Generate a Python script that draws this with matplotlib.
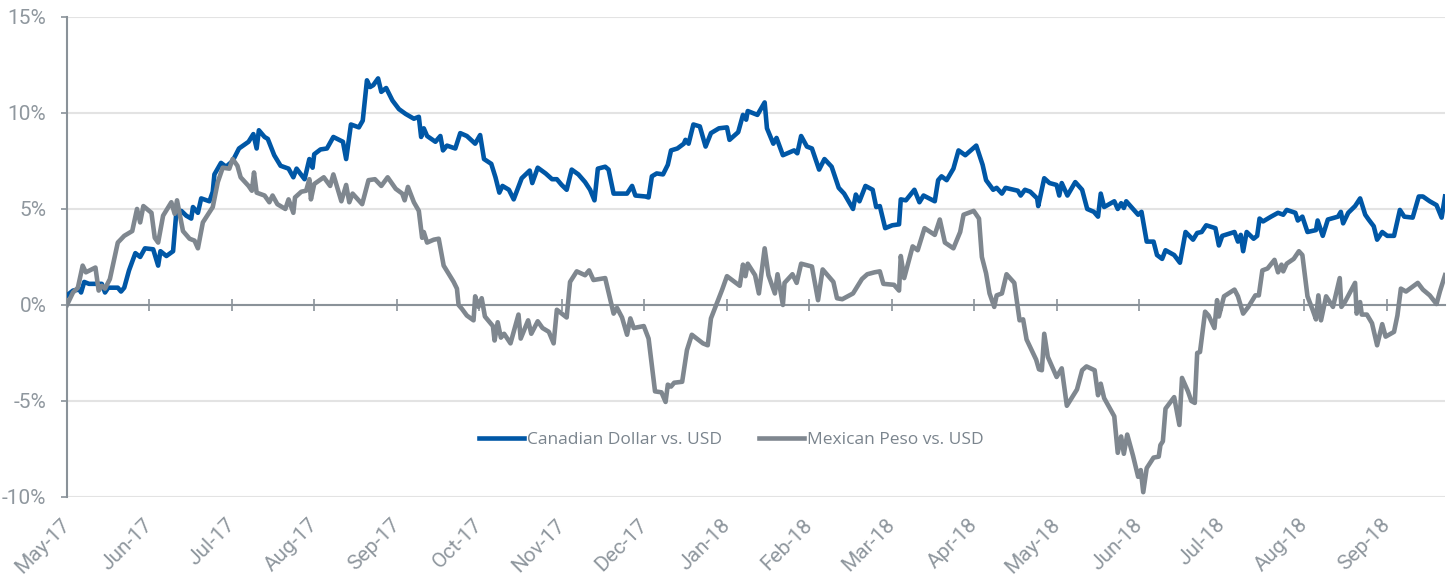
import numpy as np
import matplotlib
matplotlib.use("Agg")
import matplotlib.pyplot as plt
from matplotlib import font_manager

out_path = "out.png"

# x = months since May-17, y = % change vs. USD
month_labels = ["May-17", "Jun-17", "Jul-17", "Aug-17", "Sep-17", "Oct-17", "Nov-17",
                "Dec-17", "Jan-18", "Feb-18", "Mar-18", "Apr-18", "May-18", "Jun-18",
                "Jul-18", "Aug-18", "Sep-18"]
y_ticks = [-10, -5, 0, 5, 10, 15]
y_tick_labels = ["-10%", "-5%", "0%", "5%", "10%", "15%"]

cad_t = [0.000, 0.073, 0.151, 0.171, 0.209, 0.267, 0.422, 0.461, 0.500, 0.616, 0.655, 0.694,
         0.752, 0.829, 0.887, 0.945, 1.045, 1.105, 1.133, 1.205, 1.286, 1.325, 1.386, 1.446,
         1.506, 1.527, 1.587, 1.627, 1.727, 1.767, 1.787, 1.867, 1.928, 2.008, 2.085, 2.201,
         2.259, 2.299, 2.326, 2.395, 2.434, 2.512, 2.589, 2.686, 2.744, 2.783, 2.880, 2.938,
         2.977, 2.997, 3.073, 3.151, 3.229, 3.345, 3.384, 3.442, 3.538, 3.585, 3.636, 3.674,
         3.713, 3.771, 3.810, 3.869, 3.945, 4.024, 4.105, 4.205, 4.265, 4.293, 4.325, 4.365,
         4.466, 4.526, 4.558, 4.606, 4.707, 4.767, 4.847, 4.948, 5.008, 5.055, 5.143, 5.194,
         5.241, 5.279, 5.357, 5.415, 5.512, 5.609, 5.640, 5.706, 5.802, 5.880, 5.938, 5.997,
         6.057, 6.118, 6.199, 6.280, 6.341, 6.394, 6.435, 6.524, 6.565, 6.626, 6.789, 6.850,
         6.890, 7.012, 7.050, 7.090, 7.148, 7.225, 7.283, 7.322, 7.399, 7.477, 7.497, 7.535,
         7.593, 7.671, 7.741, 7.806, 7.903, 8.000, 8.031, 8.136, 8.194, 8.233, 8.252, 8.369,
         8.457, 8.485, 8.562, 8.601, 8.678, 8.814, 8.853, 8.899, 8.969, 9.030, 9.117, 9.182,
         9.269, 9.355, 9.420, 9.528, 9.562, 9.606, 9.679, 9.766, 9.809, 9.853, 9.918, 10.004,
         10.086, 10.107, 10.169, 10.272, 10.333, 10.383, 10.519, 10.560, 10.601, 10.663,
         10.745, 10.807, 10.889, 11.022, 11.099, 11.141, 11.227, 11.269, 11.333, 11.376,
         11.526, 11.560, 11.612, 11.676, 11.760, 11.773, 11.846, 11.910, 11.996, 12.028,
         12.058, 12.127, 12.222, 12.305, 12.367, 12.448, 12.498, 12.531, 12.572, 12.695,
         12.737, 12.778, 12.811, 12.840, 12.901, 12.984, 13.025, 13.088, 13.171, 13.213,
         13.275, 13.316, 13.421, 13.491, 13.559, 13.650, 13.700, 13.754, 13.809, 13.921,
         13.963, 14.004, 14.152, 14.194, 14.228, 14.257, 14.300, 14.384, 14.427, 14.456,
         14.498, 14.595, 14.680, 14.743, 14.785, 14.890, 14.920, 14.975, 15.037, 15.140,
         15.160, 15.222, 15.284, 15.407, 15.441, 15.469, 15.531, 15.614, 15.675, 15.737,
         15.778, 15.840, 15.881, 15.943, 16.004, 16.086, 16.157, 16.210, 16.312, 16.386,
         16.436, 16.519, 16.601, 16.663, 16.704]
cad_pct = [0.5, 0.75, 0.8, 0.65, 1.2, 1.1, 1.1, 0.65, 0.9, 0.9, 0.7, 0.9,
           1.8, 2.7, 2.5, 2.95, 2.9, 2.05, 2.8, 2.55, 2.8, 4.8, 4.9, 4.65,
           4.5, 5.1, 4.8, 5.55, 5.4, 5.9, 6.8, 7.4, 7.2, 7.5, 8.15, 8.5,
           8.9, 8.15, 9.1, 8.75, 8.65, 7.8, 7.25, 7.1, 6.65, 7.1, 6.55, 7.6,
           7.15, 7.85, 8.1, 8.15, 8.75, 8.5, 7.6, 9.4, 9.25, 9.6, 11.7, 11.35,
           11.45, 11.8, 11.1, 11.3, 10.65, 10.2, 9.95, 9.7, 9.8, 8.75, 9.2, 8.8,
           8.5, 8.8, 8.05, 8.3, 8.15, 8.95, 8.8, 8.4, 8.85, 7.6, 7.35, 6.65,
           5.85, 6.2, 6.0, 5.5, 6.6, 7.0, 6.35, 7.15, 6.85, 6.55, 6.55, 6.25,
           6.0, 7.05, 6.8, 6.4, 6.0, 5.45, 7.1, 7.2, 7.05, 5.8, 5.8, 6.2,
           5.7, 5.65, 5.6, 6.7, 6.85, 6.8, 7.3, 8.05, 8.15, 8.4, 8.6, 8.4,
           9.4, 9.3, 8.25, 8.95, 9.2, 9.25, 8.6, 9.0, 9.9, 9.65, 10.1, 9.9,
           10.55, 9.2, 8.4, 8.7, 7.8, 8.05, 7.9, 8.8, 8.25, 8.15, 7.05, 7.6,
           7.2, 6.1, 5.8, 5.0, 5.75, 5.4, 6.2, 6.0, 5.1, 5.15, 4.0, 4.15,
           4.2, 5.5, 5.45, 6.0, 5.35, 5.7, 5.4, 6.5, 6.7, 6.5,
           7.1, 8.05, 7.8, 8.3, 7.3, 6.5, 6.0, 6.1, 5.8, 6.1,
           5.95, 5.7, 6.0, 5.9, 5.55, 5.15, 6.6, 6.35, 6.25, 5.7,
           6.35, 5.7, 6.4, 6.0, 5.0, 4.85, 4.6, 5.8, 5.1, 5.4,
           5.0, 5.3, 5.05, 5.4, 5.1, 4.7, 4.85, 3.3, 3.3, 2.6,
           2.4, 2.85, 2.6, 2.2, 3.8, 3.4, 3.75, 3.8, 4.15, 4.0,
           3.1, 3.6, 3.8, 3.3, 3.65, 2.8, 3.8, 3.45, 3.6, 4.5,
           4.35, 4.6, 4.8, 4.7, 4.95, 4.8, 4.4, 4.6, 3.8, 3.9,
           4.4, 3.6, 4.45, 4.6, 4.85, 4.25, 4.8, 5.15, 5.55, 4.7,
           4.45, 4.1, 3.4, 3.8, 3.6, 3.6, 4.95, 4.6, 4.55, 5.65,
           5.65, 5.4, 5.2, 4.55, 5.65]

mxn_t = [0.000, 0.073, 0.132, 0.190, 0.229, 0.345, 0.384, 0.422, 0.461, 0.520, 0.616, 0.694,
         0.791, 0.849, 0.887, 0.926, 1.024, 1.064, 1.105, 1.165, 1.265, 1.305, 1.334, 1.406,
         1.486, 1.546, 1.587, 1.647, 1.767, 1.828, 1.888, 1.968, 2.008, 2.066, 2.105, 2.201,
         2.241, 2.267, 2.299, 2.395, 2.453, 2.492, 2.550, 2.647, 2.686, 2.744, 2.764, 2.841,
         2.899, 2.938, 2.957, 2.997, 3.113, 3.190, 3.229, 3.326, 3.384, 3.422, 3.462, 3.578,
         3.655, 3.733, 3.810, 3.887, 3.985, 4.064, 4.093, 4.133, 4.205, 4.265, 4.305, 4.325,
         4.365, 4.446, 4.506, 4.566, 4.687, 4.727, 4.747, 4.787, 4.847, 4.928, 4.948, 4.988,
         5.027, 5.066, 5.163, 5.183, 5.221, 5.260, 5.299, 5.376, 5.473, 5.500, 5.590, 5.628,
         5.706, 5.764, 5.841, 5.899, 5.938, 5.997, 6.057, 6.098, 6.179, 6.280, 6.329, 6.382,
         6.524, 6.626, 6.667, 6.728, 6.789, 6.829, 6.870, 6.992, 7.050, 7.128, 7.206, 7.256,
         7.283, 7.322, 7.360, 7.457, 7.515, 7.574, 7.709, 7.767, 7.806, 7.942, 8.000, 8.155,
         8.194, 8.224, 8.252, 8.341, 8.387, 8.457, 8.503, 8.581, 8.613, 8.678, 8.698, 8.794,
         8.845, 8.899, 9.030, 9.104, 9.160, 9.290, 9.334, 9.398, 9.528, 9.636, 9.701, 9.788,
         9.853, 9.896, 10.025, 10.086, 10.107, 10.148, 10.251, 10.312, 10.395, 10.519,
         10.580, 10.642, 10.745, 10.827, 10.868, 10.991, 11.055, 11.090, 11.141, 11.183,
         11.240, 11.269, 11.333, 11.389, 11.483, 11.547, 11.590, 11.632, 11.748, 11.782,
         11.817, 11.846, 11.889, 11.996, 12.058, 12.120, 12.243, 12.305, 12.358, 12.457,
         12.498, 12.531, 12.572, 12.695, 12.737, 12.778, 12.811, 12.852, 12.922, 12.984,
         13.016, 13.046, 13.088, 13.171, 13.234, 13.254, 13.284, 13.316, 13.421, 13.484,
         13.516, 13.588, 13.629, 13.671, 13.700, 13.734, 13.796, 13.838, 13.909, 13.941,
         13.963, 14.025, 14.152, 14.194, 14.257, 14.320, 14.405, 14.447, 14.490, 14.553,
         14.637, 14.680, 14.722, 14.743, 14.785, 14.870, 14.933, 14.975, 15.037, 15.099,
         15.140, 15.169, 15.201, 15.263, 15.346, 15.428, 15.448, 15.490, 15.614, 15.633,
         15.675, 15.695, 15.757, 15.819, 15.881, 15.943, 15.984, 16.086, 16.127, 16.169,
         16.231, 16.374, 16.436, 16.519, 16.601, 16.642, 16.704]
mxn_pct = [0.0, 0.65, 0.9, 2.05, 1.7, 1.95, 0.75, 1.0, 0.85, 1.35, 3.25, 3.6,
           3.85, 5.0, 4.3, 5.15, 4.8, 3.5, 3.25, 4.65, 5.35, 4.75, 5.45, 3.85,
           3.45, 3.35, 2.95, 4.3, 5.1, 6.4, 7.15, 7.1, 7.6, 7.25, 6.65, 6.2,
           5.95, 6.9, 5.85, 5.7, 5.35, 5.7, 5.25, 5.0, 5.5, 4.8, 5.6, 5.9,
           5.95, 6.55, 5.5, 6.3, 6.65, 6.2, 6.8, 5.4, 6.25, 5.35, 5.8, 5.25,
           6.5, 6.55, 6.2, 6.65, 6.05, 5.8, 5.45, 6.15, 5.35, 4.9, 3.5, 3.8,
           3.25, 3.4, 3.45, 2.05, 1.2, 0.85, 0.0, -0.2, -0.55, -0.8, 0.45, -0.1,
           0.35, -0.6, -1.1, -1.85, -0.9, -1.7, -1.5, -2.0, -0.5, -1.75, -0.8, -1.5,
           -0.85, -1.2, -1.4, -2.0, -0.25, -0.45, -0.65, 1.2, 1.75, 1.55, 1.8, 1.3,
           1.4, -0.45, -0.15, -0.65, -1.55, -0.7, -1.2, -1.1, -1.75, -4.5, -4.55, -5.05,
           -4.15, -4.25, -4.05, -4.0, -2.35, -1.55, -2.0, -2.1, -0.7, 0.8, 1.5, 1.0,
           2.1, 1.5, 2.15, 1.55, 0.6, 2.95, 1.55, 0.6, 1.6, 0.0, 1.15, 1.6,
           1.15, 2.15, 2.0, 0.25, 1.85, 1.2, 0.35, 0.3, 0.6, 1.35, 1.6, 1.7,
           1.75, 1.1, 1.05, 0.75, 2.55, 1.4, 3.05, 2.85, 4.0, 3.65,
           4.45, 3.25, 2.95, 3.8, 4.7, 4.9, 4.5, 2.5, 1.65, 0.6,
           -0.1, 0.5, 0.6, 1.6, 1.15, -0.8, -0.75, -1.8, -2.85, -3.35,
           -3.4, -1.5, -2.7, -3.75, -3.3, -5.25, -4.4, -3.4, -3.2, -3.4,
           -4.7, -4.1, -4.85, -5.8, -7.7, -6.85, -7.75, -6.75, -7.85, -8.95,
           -8.6, -9.75, -8.5, -7.95, -7.9, -7.3, -7.1, -5.4, -4.8, -6.25,
           -3.8, -4.5, -5.0, -5.1, -2.5, -2.45, -0.35, -0.55, -1.2, 0.25,
           -0.6, 0.45, 0.8, 0.45, -0.45, -0.1, 0.5, 0.5, 1.8, 1.9,
           2.35, 1.7, 2.1, 1.75, 2.15, 2.4, 2.8, 2.6, 0.45, -0.25,
           -0.75, 0.5, -0.8, 0.45, -0.1, 1.4, -0.1, 0.15, 1.15, -0.45,
           0.15, -0.5, -0.5, -0.95, -2.1, -1.0, -1.65, -1.4, -0.55, 0.85,
           0.7, 1.15, 0.8, 0.5, 0.05, 0.7, 1.55]

blue = "#0057a6"
grey = "#7f878f"
axis_grey = "#8a9299"
text_grey = "#8f979e"
grid_grey = "#e3e3e3"

available = {f.name for f in font_manager.fontManager.ttflist}
tick_font = "Liberation Sans Narrow" if "Liberation Sans Narrow" in available else "Roboto"

fig = plt.figure(figsize=(14.53, 5.75), dpi=100)
ax = fig.add_axes([0.0461, 0.1357, 0.9484, 0.8348])

ax.plot(cad_t, cad_pct, color=blue, lw=3.3, label="Canadian Dollar vs. USD",
        solid_joinstyle="round", zorder=3)
ax.plot(mxn_t, mxn_pct, color=grey, lw=3.3, label="Mexican Peso vs. USD",
        solid_joinstyle="round", zorder=3)

ax.set_xlim(cad_t[0], cad_t[-1])
ax.set_ylim(y_ticks[0], y_ticks[-1])

for side in ["top", "right"]:
    ax.spines[side].set_visible(False)
ax.spines["left"].set_color(axis_grey)
ax.spines["left"].set_linewidth(1.5)
ax.spines["bottom"].set_position(("data", 0))
ax.spines["bottom"].set_color(axis_grey)
ax.spines["bottom"].set_linewidth(1.5)

ax.set_yticks(y_ticks, y_tick_labels)
ax.tick_params(axis="y", direction="out", length=4.3, width=1.2, color=axis_grey,
               labelcolor=text_grey, labelsize=15, pad=10.5)
for lbl in ax.get_yticklabels():
    lbl.set_family([tick_font, "DejaVu Sans"])

ax.set_xticks(range(len(month_labels)))
ax.tick_params(axis="x", direction="inout", length=8.6, width=1.2, color=axis_grey,
               labelbottom=False)

ax.set_axisbelow(True)
ax.yaxis.grid(True, color=grid_grey, lw=1.5)
ax.xaxis.grid(False)

# month labels sit under the plot, the tick marks stay on the zero line
sec = ax.secondary_xaxis("bottom")
sec.spines["bottom"].set_visible(False)
sec.set_xticks(range(len(month_labels)), month_labels, rotation=45, ha="right",
               va="center", rotation_mode="anchor")
sec.tick_params(axis="x", length=0, pad=18, labelcolor=text_grey, labelsize=15)
for lbl in sec.get_xticklabels():
    lbl.set_family([tick_font, "DejaVu Sans"])

leg = ax.legend(loc="center", bbox_to_anchor=(0.482, 0.119), ncol=2, frameon=False,
                handlelength=2.6, handletextpad=0.2, columnspacing=2.1,
                prop={"family": "Open Sans", "size": 12.5})
for txt in leg.get_texts():
    txt.set_color("#7a848d")

fig.savefig(out_path, dpi=100, facecolor="white")
print(f"Saved plot to {out_path}")
